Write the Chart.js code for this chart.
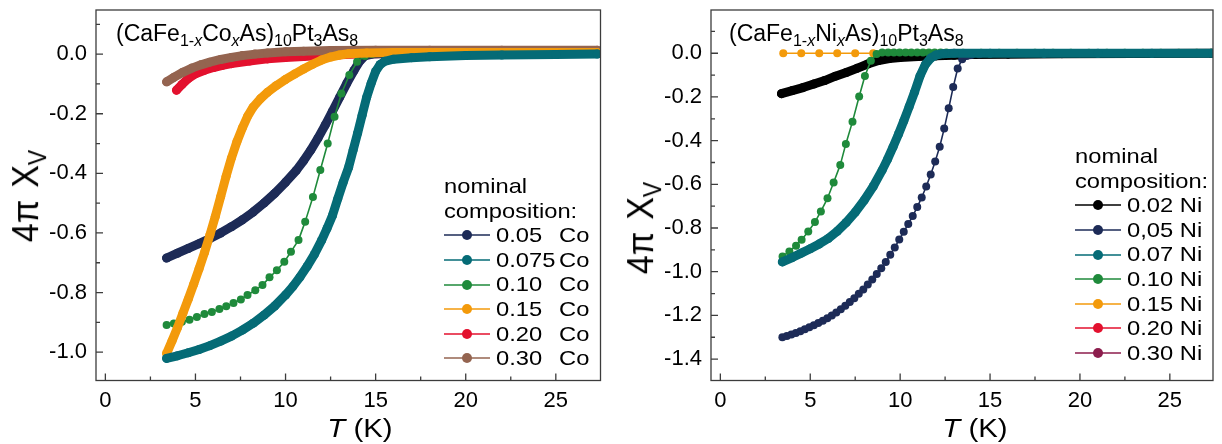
<!DOCTYPE html>
<html>
<head>
<meta charset="utf-8">
<script src="https://cdn.jsdelivr.net/npm/chart.js@4.4.1/dist/chart.umd.min.js"></script>
<style>
  html, body { margin:0; padding:0; background:#fff; }
  body { width:1222px; height:444px; position:relative; overflow:hidden; font-family:"Liberation Sans", Arial, sans-serif; color:#000; }
  canvas { position:absolute; top:0; }
  #co { left:0; }
  #ni { left:611px; }
  .txt { position:absolute; white-space:nowrap; line-height:1; }
  .title { font-size:23px; }
  .title sub { font-size:16px; vertical-align:-5px; line-height:0; }
  .ytitle { font-size:34px; transform:translate(-50%, -50%) scaleX(1.1) rotate(-90deg); }
  .ytitle .gap { display:inline-block; width:12px; }
  .ytitle sub { font-size:23px; vertical-align:-7px; line-height:0; }
  .xtitle { font-size:26px; transform:translate(-50%, -50%) scaleX(1.13); }
  .legend { position:absolute; font-size:21px; line-height:24.6px; white-space:nowrap; }
  .legend .row { display:flex; align-items:center; height:24.6px; }
  .legend svg { margin-right:6px; flex:none; }
  .legend .sx { display:inline-block; transform:scaleX(1.13); transform-origin:0 50%; }
  .legend .num { width:63px; }
</style>
</head>
<body>
<canvas id="co" width="611" height="444"></canvas>
<canvas id="ni" width="611" height="444"></canvas>

<div class="txt title" style="left:116px; top:22px">(CaFe<sub>1-<i>x</i></sub>Co<sub><i>x</i></sub>As)<sub>10</sub>Pt<sub>3</sub>As<sub>8</sub></div>
<div class="txt title" style="left:729px; top:22px">(CaFe<sub>1-<i>x</i></sub>Ni<sub><i>x</i></sub>As)<sub>10</sub>Pt<sub>3</sub>As<sub>8</sub></div>
<div class="txt ytitle" style="left:25px; top:196px">4π<span class="gap"></span>X<sub>V</sub></div>
<div class="txt ytitle" style="left:640px; top:228px">4π<span class="gap"></span>X<sub>V</sub></div>
<div class="txt xtitle" style="left:360px; top:428px"><i>T</i> (K)</div>
<div class="txt xtitle" style="left:975px; top:428px"><i>T</i> (K)</div>
<div class="legend" id="coLegend" style="left:444px; top:174px"></div>
<div class="legend" id="niLegend" style="left:1075px; top:144px"></div>

<script>
// axes
const xTicks = [0, 5, 10, 15, 20, 25]
const xMinor = [2.5, 7.5, 12.5, 17.5, 22.5]
const coYTicks = [-1.0, -0.8, -0.6, -0.4, -0.2, 0]
const coYMinor = [-0.9, -0.7, -0.5, -0.3, -0.1, 0.1]
const niYTicks = [-1.4, -1.2, -1.0, -0.8, -0.6, -0.4, -0.2, 0]
const niYMinor = [-1.3, -1.1, -0.9, -0.7, -0.5, -0.3, -0.1, 0.1]

// (CaFe1-xCoxAs)10Pt3As8
const coLabels = ["0.05", "0.075", "0.10", "0.15", "0.20", "0.30"]
const coT005 = [3.4, 4.0, 4.6, 5.2, 5.8, 6.4, 7.0, 7.6, 8.2, 8.8, 9.4, 10.0, 10.6, 11.0, 11.4, 11.8, 12.2, 12.6, 13.0, 13.4, 13.8, 14.1, 14.4, 14.8, 15.5, 17.0, 19.0, 21.0, 23.0, 25.0, 27.3]
const coChi005 = [-0.684, -0.668, -0.652, -0.636, -0.619, -0.600, -0.579, -0.556, -0.530, -0.500, -0.467, -0.430, -0.390, -0.358, -0.322, -0.282, -0.238, -0.192, -0.145, -0.098, -0.055, -0.025, -0.006, 0.0, 0.002, 0.003, 0.003, 0.003, 0.003, 0.003, 0.003]
const coT0075 = [3.4, 4.0, 4.6, 5.2, 5.8, 6.4, 7.0, 7.6, 8.2, 8.8, 9.4, 10.0, 10.4, 10.8, 11.2, 11.6, 12.0, 12.3, 12.6, 12.9, 13.2, 13.5, 13.75, 14.0, 14.25, 14.5, 14.75, 15.0, 15.25, 15.5, 16.0, 17.0, 18.0, 20.0, 22.0, 25.0, 27.3]
const coChi0075 = [-1.021, -1.012, -1.002, -0.991, -0.978, -0.963, -0.946, -0.926, -0.903, -0.876, -0.845, -0.808, -0.780, -0.748, -0.712, -0.672, -0.625, -0.585, -0.542, -0.485, -0.430, -0.380, -0.322, -0.265, -0.205, -0.145, -0.098, -0.058, -0.035, -0.024, -0.017, -0.012, -0.009, -0.005, -0.003, -0.001, 0.0]
const coT010 = [3.4, 3.8, 4.25, 4.67, 5.08, 5.5, 5.91, 6.33, 6.71, 7.11, 7.52, 7.89, 8.32, 8.72, 9.11, 9.52, 9.93, 10.3, 10.72, 11.09, 11.52, 11.93, 12.34, 12.72, 13.1, 13.54, 13.97, 14.4, 14.8, 15.5, 16.5, 17.5, 18.5, 19.5, 20.5, 21.5, 22.5, 23.5, 24.5, 25.5, 26.5, 27.3]
const coChi010 = [-0.909, -0.904, -0.898, -0.891, -0.882, -0.872, -0.865, -0.855, -0.846, -0.835, -0.823, -0.808, -0.792, -0.775, -0.749, -0.725, -0.697, -0.663, -0.624, -0.562, -0.479, -0.389, -0.300, -0.210, -0.132, -0.070, -0.026, -0.006, 0.0, 0.0, 0.0, 0.0, 0.0, 0.0, 0.0, 0.0, 0.0, 0.0, 0.0, 0.0, 0.0, 0.0]
const coT015 = [3.4, 3.7, 4.0, 4.3, 4.6, 4.9, 5.2, 5.5, 5.8, 6.1, 6.4, 6.7, 7.0, 7.3, 7.6, 7.9, 8.2, 8.6, 9.0, 9.5, 10.0, 10.5, 11.0, 11.5, 12.0, 12.5, 13.0, 13.5, 14.5, 16.0, 18.0, 20.0, 22.0, 25.0, 27.3]
const coChi015 = [-1.004, -0.962, -0.918, -0.870, -0.822, -0.772, -0.720, -0.666, -0.607, -0.545, -0.478, -0.410, -0.348, -0.294, -0.248, -0.208, -0.178, -0.150, -0.128, -0.105, -0.085, -0.067, -0.050, -0.034, -0.020, -0.010, -0.003, 0.001, 0.004, 0.005, 0.005, 0.005, 0.005, 0.005, 0.005]
const coT020 = [3.95, 4.25, 4.6, 5.0, 5.5, 6.0, 6.5, 7.0, 8.0, 9.0, 10.0, 11.0, 12.0, 13.0, 14.0, 16.0, 20.0, 24.0, 27.3]
const coChi020 = [-0.121, -0.102, -0.082, -0.066, -0.054, -0.045, -0.038, -0.032, -0.023, -0.016, -0.011, -0.008, -0.005, -0.002, 0.0, 0.002, 0.002, 0.002, 0.002]
const coT030 = [3.4, 3.8, 4.3, 4.8, 5.3, 5.8, 6.4, 7.0, 7.6, 8.3, 9.0, 10.0, 11.0, 12.5, 15.0, 18.0, 22.0, 27.3]
const coChi030 = [-0.093, -0.078, -0.061, -0.047, -0.036, -0.027, -0.018, -0.011, -0.005, 0.0, 0.004, 0.008, 0.010, 0.012, 0.013, 0.013, 0.013, 0.013]

// (CaFe1-xNixAs)10Pt3As8
const niLabels = ["0.02", "0,05", "0.07", "0.10", "0.15", "0.20", "0.30"]
const niT002 = [3.4, 4.0, 4.6, 5.2, 5.8, 6.4, 7.0, 7.6, 8.2, 8.8, 9.4, 10.0, 11.0, 12.0, 13.0, 14.0, 16.0, 19.0, 23.0, 27.3]
const niChi002 = [-0.185, -0.171, -0.157, -0.141, -0.125, -0.105, -0.088, -0.069, -0.049, -0.033, -0.024, -0.019, -0.015, -0.012, -0.009, -0.006, -0.004, -0.002, -0.001, 0.0]
const niT005 = [3.45, 3.7, 3.95, 4.2, 4.45, 4.7, 4.95, 5.2, 5.45, 5.7, 5.95, 6.2, 6.45, 6.7, 6.95, 7.2, 7.45, 7.7, 7.95, 8.2, 8.45, 8.7, 8.95, 9.2, 9.45, 9.7, 9.95, 10.2, 10.45, 10.7, 10.95, 11.2, 11.45, 11.7, 11.95, 12.2, 12.45, 12.7, 12.95, 13.2, 13.45, 13.7, 13.95, 14.4, 15.0, 16.0, 17.0, 18.0, 19.0, 20.0, 21.0, 22.0, 23.0, 24.0, 25.0, 26.0, 27.0]
const niChi005 = [-1.300, -1.294, -1.288, -1.280, -1.272, -1.263, -1.254, -1.245, -1.235, -1.224, -1.213, -1.200, -1.187, -1.172, -1.156, -1.139, -1.121, -1.101, -1.081, -1.059, -1.036, -1.011, -0.984, -0.955, -0.922, -0.889, -0.853, -0.817, -0.782, -0.745, -0.704, -0.660, -0.610, -0.555, -0.495, -0.428, -0.345, -0.252, -0.155, -0.070, -0.027, -0.013, -0.008, -0.005, 0.0, 0.0, 0.0, 0.0, 0.0, 0.0, 0.0, 0.0, 0.0, 0.0, 0.0, 0.0, 0.0]
const niT007 = [3.45, 4.0, 4.5, 5.0, 5.5, 6.0, 6.5, 7.0, 7.5, 8.0, 8.5, 9.0, 9.3, 9.6, 9.9, 10.2, 10.5, 10.8, 11.1, 11.4, 11.7, 12.0, 12.4, 13.0, 15.0, 18.0, 21.0, 24.0, 27.4]
const niChi007 = [-0.955, -0.935, -0.915, -0.895, -0.873, -0.848, -0.815, -0.775, -0.728, -0.673, -0.610, -0.535, -0.485, -0.430, -0.372, -0.310, -0.245, -0.178, -0.105, -0.052, -0.022, -0.008, -0.002, 0.0, 0.0, 0.0, 0.0, 0.0, 0.0]
const niT010 = [3.46, 3.84, 4.21, 4.52, 4.89, 5.26, 5.59, 5.96, 6.3, 6.67, 6.98, 7.35, 7.72, 8.04, 8.37, 8.69, 9.0, 9.33, 9.65, 9.97, 10.3, 10.62, 10.95, 11.27, 11.6, 11.92, 12.25, 12.57, 13.5, 14.5, 15.5, 16.5, 17.5, 18.5, 19.5, 20.5, 21.5, 22.5, 23.5, 24.5, 25.5, 26.5, 27.3]
const niChi010 = [-0.930, -0.907, -0.881, -0.854, -0.816, -0.773, -0.724, -0.664, -0.592, -0.511, -0.415, -0.313, -0.198, -0.104, -0.034, -0.003, 0.003, 0.003, 0.003, 0.003, 0.003, 0.003, 0.003, 0.003, 0.003, 0.003, 0.003, 0.003, 0.002, 0.002, 0.002, 0.002, 0.002, 0.002, 0.002, 0.002, 0.002, 0.002, 0.002, 0.002, 0.002, 0.002, 0.002]
const niT015 = [3.5, 4.5, 5.5, 6.5, 7.5, 8.5, 9.5, 10.5, 11.5, 12.5, 13.5, 14.5, 15.5, 16.5, 17.5, 18.5, 19.5, 20.5, 21.5, 22.5, 23.5, 24.5, 25.5, 26.5]
const niChi015 = [0.0, 0.0, 0.0, 0.0, 0.0, 0.0, 0.0, 0.0, 0.0, 0.0, 0.0, 0.0, 0.0, 0.0, 0.0, 0.0, 0.0, 0.0, 0.0, 0.0, 0.0, 0.0, 0.0, 0.0]
const niT020 = []
const niChi020 = []
const niT030 = []
const niChi030 = []

const navy = "#1d2b57", teal = "#056b76", green = "#1f8a3b", orange = "#f39a0b", red = "#e3112e", brown = "#946450", black = "#000000", plum = "#8c1d4d"
const font = "'Liberation Sans', Arial, sans-serif"

/** Pairs two arrays into chart points. */
const points = (t, chi) => t.map((v, i) => ({x:v, y:chi[i]}))

/** One dataset: thick band for dense scans, thin line for sparse ones. */
function series(t, chi, color, dense, order) {
  return {
    data:points(t, chi),
    showLine:true,
    borderColor:color,
    backgroundColor:color,
    borderWidth:dense ? 9 : 1.6,
    borderCapStyle:"round",
    borderJoinStyle:"round",
    pointRadius:dense ? 4.5 : 4,
    pointHoverRadius:4,
    pointBorderWidth:0,
    order,
  }
}

/** Frame and inward ticks, like the original plotting program. */
const frame = {
  id:"frame",
  afterDatasetsDraw(chart, args, opts) {
    const {ctx, chartArea:a, scales:{x, y}} = chart
    ctx.save()
    ctx.strokeStyle = "#3c3c3c"
    ctx.lineWidth = 1.3
    ctx.strokeRect(a.left, a.top, a.right - a.left, a.bottom - a.top)
    ctx.beginPath()
    const tick = (values, len, horizontal) => values.forEach(v => {
      if (horizontal) {
        const px = x.getPixelForValue(v)
        ctx.moveTo(px, a.bottom)
        ctx.lineTo(px, a.bottom - len)
      }
      else {
        const py = y.getPixelForValue(v)
        ctx.moveTo(a.left, py)
        ctx.lineTo(a.left + len, py)
      }
    })
    tick(xTicks, 7, true)
    tick(xMinor, 4, true)
    tick(opts.yTicks, 7, false)
    tick(opts.yMinor, 4, false)
    ctx.stroke()
    ctx.restore()
  }
}

function panel(id, datasets, {yMin, yMax, xMin, xMax, yTicks, yMinor, axisWidth, padRight}) {
  return new Chart(document.getElementById(id), {
    type:"scatter",
    data:{datasets},
    options:{
      responsive:false,
      animation:false,
      events:[],
      layout:{padding:{top:10, right:padRight, left:0, bottom:0}},
      plugins:{legend:{display:false}, tooltip:{enabled:false}, frame:{yTicks, yMinor}},
      scales:{
        x:{
          type:"linear", min:xMin, max:xMax,
          afterBuildTicks:scale => { scale.ticks = xTicks.map(value => ({value})) },
          afterFit:scale => {
            scale.height = 63.5
            scale.paddingLeft = 0
            scale.paddingRight = 0
          },
          grid:{display:false, drawTicks:false},
          border:{display:false},
          ticks:{color:"#000", padding:7, font:{family:font, size:22}, callback:v => String(v)},
        },
        y:{
          type:"linear", min:yMin, max:yMax,
          afterBuildTicks:scale => { scale.ticks = yTicks.map(value => ({value})) },
          afterFit:scale => {
            scale.width = axisWidth
            scale.paddingTop = 0
            scale.paddingBottom = 0
          },
          grid:{display:false, drawTicks:false},
          border:{display:false},
          ticks:{color:"#000", padding:9, font:{family:font, size:22}, callback:v => v.toFixed(1)},
        },
      },
    },
    plugins:[frame],
  })
}

panel("co", [
  series(coT0075, coChi0075, teal, true, 0),
  series(coT015, coChi015, orange, true, 1),
  series(coT010, coChi010, green, false, 2),
  series(coT005, coChi005, navy, true, 3),
  series(coT030, coChi030, brown, true, 4),
  series(coT020, coChi020, red, true, 5),
], {xMin:-0.52, xMax:27.48, yMin:-1.095, yMax:0.148, yTicks:coYTicks, yMinor:coYMinor, axisWidth:96, padRight:10.5})

panel("ni", [
  series(niT007, niChi007, teal, true, 0),
  series(niT010, niChi010, green, false, 1),
  series(niT005, niChi005, navy, false, 2),
  series(niT002, niChi002, black, true, 3),
  series(niT015, niChi015, orange, false, 4),
  series(niT020, niChi020, red, false, 5),
  series(niT030, niChi030, plum, false, 6),
], {xMin:-0.52, xMax:27.4, yMin:-1.498, yMax:0.198, yTicks:niYTicks, yMinor:niYMinor, axisWidth:100, padRight:9})

/** HTML legend: header lines, then line-dot-line symbol and label. */
function legend(id, labels, colors, unit, aligned) {
  const box = document.getElementById(id)
  box.innerHTML = `<div><span class="sx">nominal</span></div><div><span class="sx">composition:</span></div>`
  labels.forEach((label, i) => {
    const row = document.createElement("div")
    row.className = "row"
    const text = aligned
      ? `<span class="sx num">${label}</span><span class="sx">${unit}</span>`
      : `<span class="sx">${label} ${unit}</span>`
    row.innerHTML = `<svg width="46" height="14"><line x1="0" y1="7" x2="46" y2="7" stroke="${colors[i]}" stroke-width="1.6"/><circle cx="23" cy="7" r="5" fill="${colors[i]}"/></svg>${text}`
    box.appendChild(row)
  })
}
legend("coLegend", coLabels, [navy, teal, green, orange, red, brown], "Co", true)
legend("niLegend", niLabels, [black, navy, teal, green, orange, red, plum], "Ni", false)
</script>
</body>
</html>
